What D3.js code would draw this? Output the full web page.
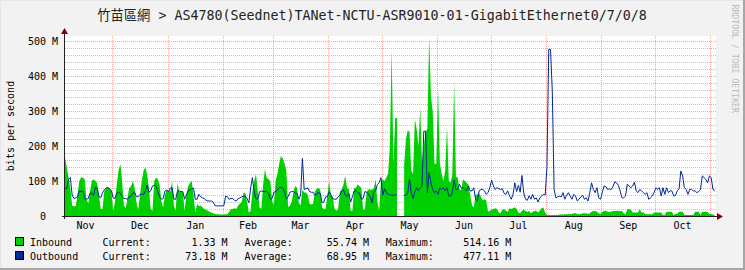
<!DOCTYPE html>
<html>
<head>
<meta charset="utf-8">
<title>AS4780 traffic</title>
<style>
body { margin: 0; background: #fff; }
svg { display: block; }
text { font-family: "DejaVu Sans Mono", monospace; fill: #000; }
.title { font-size: 13.3px; fill: #222; }
.title .cjk { font-family: "Noto Sans CJK TC", "Noto Sans CJK SC", sans-serif; }
.small { font-size: 10px; }
.mark { font-size: 8.2px; fill: #bbb; }
</style>
<script src="https://d3js.org/d3.v7.min.js"></script>
</head>
<body>
<div id="chart"></div>
<script>
var titleCjk = "竹苗區網";
var titleRest = " > AS4780(Seednet)TANet-NCTU-ASR9010-01-GigabitEthernet0/7/0/8";
var months = ["Nov","Dec","Jan","Feb","Mar","Apr","May","Jun","Jul","Aug","Sep","Oct"];
var yTicks = [0, 100, 200, 300, 400, 500];
var seriesNames = ["Inbound", "Outbound"];
var inboundStats = ["1.33 M", "55.74 M", "514.16 M"];
var outboundStats = ["73.18 M", "68.95 M", "477.11 M"];

// daily averages in Mbit/s, one per day from 4 Nov 2014 (noon)
var inbound = [
  167,140,110,80,30,28,28, 60,100,110,110,105,50,35, 70,100,105,100,95,60,20,
  20,70,80,82,80,70,15, 40,90,130,150,100,30,22, 50,80,85,100,80,40,18,
  60,100,130,140,120,80,20, 15,100,110,105,90,40,25, 60,75,72,70,
  100,30,15,95,70,68,70, 15,60,85,95,100,60,10, 35,28,30,25,20,18,15,
  12,10,8,6,5,5,4, 4,4,5,5,12,20,20, 22,20,30,35,40,65,67,
  40,10,15,70,100,120,70, 25,20,90,134,110,105,100, 45,30,100,120,150,172,165,
  150,130,25,30,40,70,86, 80,38,30,76,67,67,60, 35,33,35,70,78,80,75,
  24,20,20,60,100,57,55, 20,15,20,70,76,90,115, 80,78,15,15,80,81,90,
  85,80,20,18,70,76,76, 75,80,105,40,15,100,105, 100,110,120,200,478,150,281,
  281,null,null,null,146,220,246, 241,130,120,277,250,200,310, 150,200,241,250,514,344,300,
  150,150,363,152,120,100,130, 256,100,95,120,385,113, 110,76,76,105,100,95,90,
  60,30,25,60,62,65,55, 45,48,45,12,15,18,20, 22,20,10,8,18,20,15,
  12,22,20,22,25,20,10, 8,15,18,14,12,14,8, 12,14,15,10,16,22,24,
  10,3,3,3,3,3,3, 3,4,4,4,5,5,5, 6,6,8,8,6,5,6,
  8,8,8,6,8,12,14, 14,12,8,5,12,14,15, 12,12,12,14,14,15,14,
  14,14,8,4,19,19,18, 10,10,10,10,19,10,10, 6,5,5,5,5,10,10,
  10,10,10,3,3,12,12, 12,12,3,6,6,12,12, 12,3,3,3,3,3,3,
  12,12,12,3,12,12,12, 12,6,6,4,1.33
];
var outbound = [
  80,78,105,110,60,50,52, 55,72,70,72,50,48,50, 65,66,58,82,80,55,52,
  66,75,80,82,78,72,52, 50,66,68,65,55,50,50, 48,55,56,65,68,55,55,
  62,62,62,72,88,68,72, 86,88,86,70,55,48,50, 72,74,70,80,
  81,48,48,70,72,70,70, 48,60,72,75,78,80,48, 48,62,55,52,50,45,43,
  43,43,40,30,29,29,29, 29,30,57,55,48,50,50, 45,43,50,52,55,57,57,
  50,38,80,110,68,50,48, 70,72,70,70,70,65,48, 50,68,70,75,81,82,80,
  70,48,55,68,70,70,65, 65,48,60,165,76,78,81, 70,68,68,60,62,68,65,
  38,40,55,55,70,60,50, 48,48,55,60,70,76,60, 55,65,40,55,72,72,68,
  65,48,50,70,68,62,55, 38,70,72,90,95,110,60, 78,68,62,60,60,59,60,
  62,null,null,null,59,59,67, 105,65,50,70,81,72,81, 86,243,243,67,124,95,76,
  67,72,62,81,76,81,72, 81,57,57,67,103,76,76, 91,80,81,76,72,86,72,
  72,81,48,43,72,76,76, 72,62,67,81,103,86,76, 81,78,76,78,65,62,72,
  58,48,62,95,70,88,68, 116,65,48,45,58,48,62, 48,52,40,52,57,62,60,
  141,477,477,356,76,52,55, 57,55,67,48,59,67,57, 48,62,57,43,48,55,59,
  48,52,43,67,95,76,67, 81,52,48,67,86,84,76, 78,76,85,98,95,88,72,
  52,52,57,91,86,81,86, 97,72,67,76,72,67,62, 67,48,52,57,67,81,76,
  81,57,81,62,81,67,72, 72,57,59,72,78,129, 115,81,76,62,76,76,72,
  72,67,70,76,115,110,105, 95,115,110,76,73
];

var DAY = 86400000;
var start = Date.UTC(2014, 10, 4, 12);
var end = start + 364.7 * DAY;

var W = 745, H = 270;
var plotL = 65, plotR = 716, plotT = 36, plotB = 216;

var svg = d3.select('#chart').append('svg').attr('width', W).attr('height', H);

// canvas + frame shading
svg.append('rect').attr('width', W).attr('height', H).attr('fill', '#F2F2F2');
svg.append('path').attr('d', 'M0.5,' + H + 'V0.5H' + W).attr('fill', 'none').attr('stroke', '#E6E6E6');
svg.append('path').attr('d', 'M0,' + (H - 1) + 'H' + (W - 1) + 'V0').attr('fill', 'none').attr('stroke', '#A6A6A6').attr('stroke-width', 2);

svg.append('rect').attr('x', plotL).attr('y', plotT).attr('width', plotR - plotL).attr('height', plotB - plotT).attr('fill', '#fff');

var x = d3.scaleUtc().domain([start, end]).range([plotL, plotR]);
var y = d3.scaleLinear().domain([0, 515.7]).range([plotB, plotT]);

// minor horizontal grid
var minor = d3.range(20, 520, 20).filter(function(v) { return v % 100 !== 0; });
svg.append('g').selectAll('line').data(minor).enter().append('line')
  .attr('x1', plotL).attr('x2', plotR)
  .attr('y1', function(d) { return Math.round(y(d)) + 0.5; })
  .attr('y2', function(d) { return Math.round(y(d)) + 0.5; })
  .attr('stroke', 'rgba(143,143,143,0.55)').attr('stroke-dasharray', '1,1')
  .attr('shape-rendering', 'crispEdges');

// major grid
var monthStarts = d3.utcMonth.range(start, end);
var mg = svg.append('g').attr('stroke', 'rgba(222,79,79,0.5)').attr('stroke-dasharray', '1,1').attr('shape-rendering', 'crispEdges');
mg.selectAll('line.h').data(yTicks.filter(function(d) { return d > 0; })).enter().append('line')
  .attr('class', 'h')
  .attr('x1', plotL).attr('x2', plotR)
  .attr('y1', function(d) { return Math.round(y(d)) + 0.5; })
  .attr('y2', function(d) { return Math.round(y(d)) + 0.5; });
mg.selectAll('line.v').data(monthStarts).enter().append('line')
  .attr('class', 'v')
  .attr('y1', plotT).attr('y2', plotB)
  .attr('x1', function(d) { return Math.round(x(d)) + 0.5; })
  .attr('x2', function(d) { return Math.round(x(d)) + 0.5; });

// data
var rows = inbound.map(function(v, i) { return { t: start + i * DAY, inb: v, out: outbound[i] }; });

var area = d3.area()
  .defined(function(d) { return d.inb != null; })
  .x(function(d) { return x(d.t); })
  .y0(y(0))
  .y1(function(d) { return y(d.inb); });
svg.append('path').datum(rows).attr('d', area).attr('fill', '#00CF00');

var line = d3.line()
  .defined(function(d) { return d.out != null; })
  .x(function(d) { return x(d.t); })
  .y(function(d) { return y(d.out); });
svg.append('path').datum(rows).attr('d', line).attr('fill', 'none').attr('stroke', '#002A97').attr('stroke-width', 1);

// axes
svg.append('line').attr('x1', plotL - 3).attr('x2', plotR + 2).attr('y1', plotB + 0.5).attr('y2', plotB + 0.5).attr('stroke', '#212121');
svg.append('line').attr('x1', plotL - 0.5).attr('x2', plotL - 0.5).attr('y1', plotB + 3).attr('y2', plotT - 3).attr('stroke', '#212121');
svg.append('path').attr('d', 'M' + (plotR + 1) + ',' + (plotB - 3) + 'L' + (plotR + 7) + ',' + (plotB + 0.5) + 'L' + (plotR + 1) + ',' + (plotB + 4) + 'Z').attr('fill', '#800000');
svg.append('path').attr('d', 'M' + (plotL - 4) + ',' + (plotT - 2) + 'L' + (plotL - 0.5) + ',' + (plotT - 8) + 'L' + (plotL + 3) + ',' + (plotT - 2) + 'Z').attr('fill', '#800000');

// y tick labels
svg.append('g').selectAll('text').data(yTicks).enter().append('text')
  .attr('class', 'small')
  .attr('text-anchor', 'end')
  .attr('x', function(d) { return d === 0 ? 46 : 58; })
  .attr('y', function(d) { return y(d) + 3.5; })
  .text(function(d) { return d === 0 ? '0' : d + ' M'; });

// x labels centered in each month
svg.append('g').selectAll('text').data(months).enter().append('text')
  .attr('class', 'small')
  .attr('text-anchor', 'middle')
  .attr('x', function(d, i) {
    var m0 = Date.UTC(2014, 10 + i, 1), m1 = Date.UTC(2014, 11 + i, 1);
    return x((m0 + m1) / 2);
  })
  .attr('y', 229)
  .text(function(d) { return d; });

// title
var tt = svg.append('text').attr('class', 'title').attr('x', 372).attr('y', 20).attr('text-anchor', 'middle').attr('xml:space', 'preserve');
tt.append('tspan').attr('class', 'cjk').text(titleCjk);
tt.append('tspan').text(titleRest);

// vertical label
svg.append('text').attr('class', 'small').attr('text-anchor', 'middle')
  .attr('transform', 'translate(13.5,126) rotate(-90)').text('bits per second');

// watermark
svg.append('text').attr('class', 'mark').attr('transform', 'translate(732,4.5) rotate(90)').text('RRDTOOL / TOBI OETIKER');

// legend
var legend = [
  { name: seriesNames[0], color: '#00CF00', stats: inboundStats, y: 245.5 },
  { name: seriesNames[1], color: '#002A97', stats: outboundStats, y: 259.5 }
];
var lg = svg.append('g');
legend.forEach(function(r) {
  lg.append('rect').attr('x', 15.5).attr('y', r.y - 8).attr('width', 8).attr('height', 8)
    .attr('fill', r.color).attr('stroke', '#000').attr('stroke-width', 1);
  lg.append('text').attr('class', 'small').attr('x', 30).attr('y', r.y).text(r.name);
  lg.append('text').attr('class', 'small').attr('x', 102.5).attr('y', r.y).text('Current:');
  lg.append('text').attr('class', 'small').attr('x', 227.5).attr('y', r.y).attr('text-anchor', 'end').text(r.stats[0]);
  lg.append('text').attr('class', 'small').attr('x', 244.5).attr('y', r.y).text('Average:');
  lg.append('text').attr('class', 'small').attr('x', 369).attr('y', r.y).attr('text-anchor', 'end').text(r.stats[1]);
  lg.append('text').attr('class', 'small').attr('x', 385.7).attr('y', r.y).text('Maximum:');
  lg.append('text').attr('class', 'small').attr('x', 511.4).attr('y', r.y).attr('text-anchor', 'end').text(r.stats[2]);
});
</script>
</body>
</html>
